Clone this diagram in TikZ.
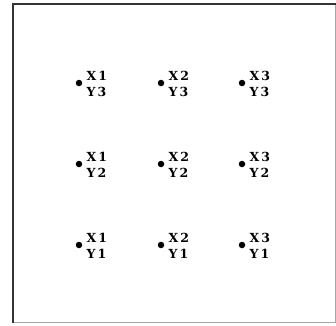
\documentclass[tikz,border=0pt]{standalone}
\usepackage{fontspec}
\setmainfont{DejaVu Serif}
\begin{document}
\begin{tikzpicture}[x=1pt,y=-1pt,
  dot/.style={circle,fill=black,inner sep=0pt,minimum size=6.5pt},
  lab/.style={anchor=west,align=left,inner sep=0pt,font=\fontsize{12.5}{16}\selectfont\bfseries}]
\useasboundingbox (0,0) rectangle (336,325);
\fill[white] (0,0) rectangle (336,325);
\draw[gray!70,line width=1pt] (12.5,322.5) -- (335.5,322.5) -- (335.5,3.5);
\draw[black!80,line width=1.6pt] (12.8,322.5) -- (12.8,3.8) -- (335.5,3.8);
\foreach \i/\x in {1/79,2/161,3/242}{
  \foreach \j/\y in {3/83,2/164,1/245}{
    \node[dot] (d\i\j) at (\x,\y) {};
    \node[lab] (l\i\j) at ([xshift=7.5pt,yshift=-0.5pt]d\i\j.center) {X\,\i\\Y\,\j};
  }
}
\end{tikzpicture}
\end{document}
